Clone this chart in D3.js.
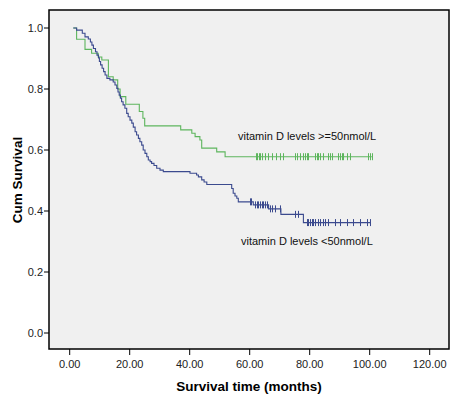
<!DOCTYPE html>
<html><head><meta charset="utf-8">
<script src="https://cdn.jsdelivr.net/npm/d3@7"></script>
<style>body{margin:0;background:#fff}svg{display:block}text{font-family:Arial,"Liberation Sans",sans-serif}</style>
</head><body><svg id="c" width="461" height="401"></svg>
<script>
const xTicks = [0, 20, 40, 60, 80, 100, 120];
const yTicks = [0.0, 0.2, 0.4, 0.6, 0.8, 1.0];
const seriesNames = ["vitamin D levels >=50nmol/L", "vitamin D levels <50nmol/L"];
const startTime = 1.2;
// green (>=50) event steps: [month, survival after step]
const greenEvents = [[2.3,0.963],[5.1,0.930],[7.3,0.917],[9.5,0.905],[10.7,0.895],[12.9,0.840],[14.5,0.830],[16.0,0.800],[16.8,0.775],[18.7,0.750],[23.2,0.726],[24.4,0.704],[25.0,0.679],[37.0,0.666],[40.7,0.655],[41.8,0.644],[43.4,0.633],[44.0,0.606],[49.0,0.594],[51.8,0.578]];
const greenCensored = [62,62.5,63,63.5,64,65,66,67.3,68.8,70.1,71,75.1,75.7,76.8,77.9,78.4,79,79.5,81.8,82.3,82.9,83.4,84.5,86.2,86.8,87.3,89.5,90.1,90.7,91.2,92.3,93.4,99.5,100.1,100.7];
// blue (<50) event steps
const blueEvents = [[2.3,0.993],[4.2,0.983],[5.1,0.971],[6.2,0.964],[6.9,0.954],[7.4,0.944],[7.9,0.933],[8.6,0.922],[9.1,0.911],[9.6,0.902],[9.9,0.890],[10.3,0.879],[10.8,0.868],[11.3,0.857],[11.8,0.846],[12.4,0.835],[13.4,0.830],[14.5,0.823],[15.1,0.813],[15.7,0.802],[16.1,0.790],[16.5,0.780],[16.9,0.770],[17.3,0.758],[17.8,0.748],[18.4,0.737],[19.0,0.720],[19.5,0.709],[20.1,0.698],[20.7,0.688],[21.2,0.675],[21.8,0.660],[22.3,0.649],[22.9,0.638],[23.4,0.627],[24.0,0.616],[24.5,0.600],[25.1,0.589],[25.7,0.578],[26.2,0.567],[26.8,0.562],[27.3,0.556],[28.1,0.549],[29.0,0.540],[30.1,0.534],[31.2,0.529],[40.1,0.524],[42.3,0.518],[42.9,0.512],[44.0,0.502],[44.8,0.495],[45.7,0.487],[54.0,0.474],[54.5,0.458],[55.1,0.449],[55.7,0.442],[56.2,0.430],[61.2,0.420],[66.3,0.407],[70.4,0.389],[77.9,0.362]];
const blueCensored = [60.1,60.4,61.8,62.3,62.8,63.4,64,64.5,65.1,65.8,66.8,67.5,68.5,70,75.1,76,79,79.5,80.1,80.7,81.2,81.8,82.9,83.4,84.5,85.1,86.2,88.4,90.1,92.3,94.5,96.8,99,100.1];

const svg = d3.select("#c");
const x = d3.scaleLinear().domain([0, 120]).range([69.7, 429.7]);
const y = d3.scaleLinear().domain([0, 1]).range([333, 28]);
const L = 49, R = 449, T = 10, B = 349;

svg.append("rect").attr("x", L).attr("y", T).attr("width", R - L).attr("height", B - T).attr("fill", "#f0f0f0");

function survAt(events, t) {
  let s = 1;
  for (const e of events) { if (e[0] <= t) s = e[1]; }
  return s;
}
function drawSeries(events, censored, color) {
  const end = d3.max(censored);
  const pts = [[startTime, 1]].concat(events).concat([[end, events[events.length - 1][1]]]);
  const line = d3.line().x(d => x(d[0])).y(d => y(d[1])).curve(d3.curveStepAfter);
  svg.append("path").attr("d", line(pts)).attr("fill", "none").attr("stroke", color).attr("stroke-width", 1.1);
  svg.append("g").selectAll("line").data(censored).join("line")
    .attr("x1", d => Math.round(x(d)) + 0.5).attr("x2", d => Math.round(x(d)) + 0.5)
    .attr("y1", d => y(survAt(events, d)) - 3.5).attr("y2", d => y(survAt(events, d)) + 3.5)
    .attr("stroke", color).attr("stroke-width", 1);
}
drawSeries(greenEvents, greenCensored, "#5db55d");
drawSeries(blueEvents, blueCensored, "#3b4a8e");

// frame
svg.append("rect").attr("x", L).attr("y", T).attr("width", R - L).attr("height", B - T).attr("fill", "none").attr("stroke", "#000").attr("stroke-width", 1.5);

// y axis ticks
const gy = svg.append("g");
gy.selectAll("line").data(yTicks).join("line")
  .attr("x1", L - 5).attr("x2", L).attr("y1", d => y(d)).attr("y2", d => y(d)).attr("stroke", "#000");
gy.selectAll("text").data(yTicks).join("text")
  .attr("x", L - 6).attr("y", d => y(d)).attr("dy", "0.35em").attr("text-anchor", "end")
  .attr("font-size", 11).attr("fill", "#222").text(d => d.toFixed(1));

// x axis ticks
const gx = svg.append("g");
gx.selectAll("line").data(xTicks).join("line")
  .attr("x1", d => x(d)).attr("x2", d => x(d)).attr("y1", B).attr("y2", B + 6).attr("stroke", "#000");
gx.selectAll("text").data(xTicks).join("text")
  .attr("x", d => x(d)).attr("y", 364).attr("dy", "0.35em").attr("text-anchor", "middle")
  .attr("font-size", 11).attr("fill", "#222").text(d => d.toFixed(2));

// axis titles
svg.append("text").attr("x", 249).attr("y", 386).attr("dy", "0.35em").attr("text-anchor", "middle")
  .attr("font-size", 13.5).attr("font-weight", "bold").text("Survival time (months)");
svg.append("text").attr("transform", "translate(17,180) rotate(-90)").attr("dy", "0.35em").attr("text-anchor", "middle")
  .attr("font-size", 13.5).attr("font-weight", "bold").text("Cum Survival");

// series labels
svg.append("text").attr("x", 238).attr("y", 136).attr("dy", "0.35em").attr("font-size", 11).attr("fill", "#111").text(seriesNames[0]);
svg.append("text").attr("x", 241).attr("y", 241).attr("dy", "0.35em").attr("font-size", 11).attr("fill", "#111").text(seriesNames[1]);
</script></body></html>
